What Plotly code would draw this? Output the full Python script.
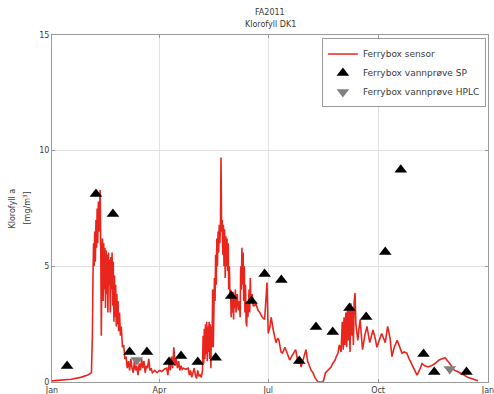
import plotly.graph_objects as go
import pandas as pd

# ---- data (day-of-year offsets from 2011-01-01) ----
sensor_day = [0, 8, 16, 24, 30, 33,
    33.8, 34.3, 34.8, 35.3, 35.8, 36.3, 36.8, 37.3, 37.8, 38.3, 38.8, 39.3, 39.8, 40.3, 40.8, 41.3, 41.8, 42.3,
    42.8, 43.3, 43.8, 44.3, 44.8, 45.3, 45.8, 46.3, 46.8, 47.3, 47.8, 48.3, 48.8, 49.3, 49.8, 50.3, 50.8, 51.3,
    51.8, 52.3, 52.8, 53.3, 53.8, 54.3, 54.8, 55.3, 55.8, 56.5, 57.3, 58, 59, 60, 61, 62, 63,
    64, 65, 66, 67, 68, 69, 70, 71, 72, 73, 74, 75, 76, 77, 78, 79, 80, 81, 82, 83, 84, 86, 88, 90, 92, 94,
    96, 97, 98, 99, 100, 101, 102, 103, 104, 105, 106, 107, 108, 109, 110, 112, 114, 115, 116, 117, 118, 119,
    120, 121, 122, 123, 124, 125,
    126, 126.5, 127, 127.5, 128, 128.5, 129, 129.5, 130, 130.5, 131, 131.5, 132, 132.5, 133, 133.5, 134, 134.5,
    135, 135.5, 136, 136.5, 137, 137.5, 138, 138.5, 139, 139.5, 140, 140.5, 141, 141.5, 142, 142.5, 143, 143.5,
    144, 144.5, 145, 145.5, 146, 146.5, 147, 147.5, 148, 148.5, 149, 149.5, 150, 150.5, 151, 151.5, 152, 152.5,
    153, 153.5, 154, 155, 156, 157, 157.5, 158, 158.5, 159, 159.5, 160, 160.5, 161, 161.5, 162, 162.5, 163,
    163.5, 164, 165, 165.5, 166, 166.5, 167.5, 168.5, 169.5, 170.5, 172.5, 174, 176, 178, 180, 181, 182.5,
    183.5, 185, 186, 187.5, 189, 190, 191.7, 193, 195, 197, 199, 200.5, 202, 204, 206, 207.5, 208.5, 210,
    212.6, 214, 216, 217, 218.5, 220, 222.7, 225, 227, 229, 231, 233.6, 235, 237, 238, 239.4, 240.5, 242, 243,
    243.8, 244.5, 245.2, 246, 246.7, 247.4, 248.1, 248.8, 249.5, 250.2, 250.9, 251.6, 252.3, 253, 253.7, 254.4,
    255, 256, 257, 258, 259, 260, 261.8, 263.7, 265, 266, 267.5, 268.7, 270.5, 272, 274, 276, 277.5, 279, 281,
    283, 284.6, 286.5, 289, 291, 293, 295, 297, 299, 301, 303, 305.6, 307.5, 309.8, 312, 314.8, 317.5, 320.6,
    324, 329, 333, 337, 339.5, 341.6, 345, 348, 352, 356.6, 361, 365]
sensor_val = [0.05, 0.08, 0.12, 0.2, 0.3, 0.4,
    2.0, 4.5, 6.0, 5.0, 6.5, 5.2, 7.0, 5.8, 7.5, 6.0, 7.8, 6.5, 8.2, 8.3, 6.0, 2.0, 5.5, 6.2,
    3.5, 6.0, 4.0, 5.8, 3.2, 5.7, 3.8, 5.5, 3.0, 5.6, 4.2, 5.3, 3.0, 5.4, 4.0, 5.6, 3.3, 5.2,
    2.6, 4.6, 2.8, 4.2, 2.4, 3.8, 2.5, 3.5, 2.2, 3.0, 2.0, 2.4, 1.5, 1.6, 1.0, 1.1, 0.6,
    0.9, 0.5, 1.0, 0.6, 0.4, 0.9, 0.5, 0.7, 0.3, 0.8, 0.5, 1.0, 0.6, 0.9, 0.4, 0.7, 0.6, 1.0, 0.5, 0.6, 0.4, 0.5, 0.4, 0.5, 0.45, 0.55,
    0.6, 0.3, 0.8, 0.5, 1.1, 0.6, 1.5, 0.7, 1.0, 0.6, 0.9, 0.5, 0.7, 0.55, 0.6, 0.55, 0.6, 0.3, 0.5, 0.2, 0.4, 0.6,
    0.3, 0.15, 0.5, 0.25, 0.3, 0.2,
    0.5, 2.0, 0.8, 2.3, 1.0, 2.5, 1.2, 2.6, 0.9, 2.4, 1.3, 2.6, 1.0, 2.5, 0.6, 2.4, 1.5, 4.0,
    1.5, 3.0, 4.5, 3.5, 5.5, 4.2, 6.2, 5.0, 6.5, 5.6, 6.8, 6.0, 6.6, 9.7, 6.5, 7.0, 5.5, 6.8,
    5.0, 6.6, 4.5, 6.3, 5.0, 6.2, 4.8, 6.0, 4.0, 5.0, 3.6, 4.0, 2.8, 3.8, 3.0, 3.9, 2.7, 3.6,
    3.2, 4.0, 3.0, 3.8, 3.1, 3.5, 2.8, 5.0, 4.0, 5.8, 4.2, 5.6, 3.5, 5.0, 3.0, 4.2,
    2.6, 2.4, 3.5, 2.8, 4.0, 3.0, 4.5, 3.5, 3.8, 3.3, 3.3, 3.4, 3.1, 3.0, 2.8, 2.7, 4.3,
    2.1, 2.4, 2.8, 2.3, 2.0, 1.7, 1.9, 1.8, 1.3, 1.25, 1.5, 1.2, 0.95, 1.1, 1.25, 1.4, 0.8, 0.9,
    0.65, 0.9, 1.4, 0.9, 0.65, 0.5, 0.4, 0.2, 0.0, 0.0, 0.0, 0.4, 0.5, 0.65, 0.8, 0.95, 1.1, 1.25, 1.6,
    1.3, 2.6, 1.4, 2.8, 1.6, 3.0, 1.5, 3.2, 1.8, 3.1, 1.3, 3.4, 2.0, 3.2, 1.6, 3.5,
    3.85, 2.5, 2.2, 1.8, 2.3, 2.7, 2.0, 1.4, 2.0, 2.4, 2.0, 1.7, 2.0, 2.25, 1.9, 1.5, 1.8, 2.1, 1.9,
    1.7, 2.4, 1.9, 1.1, 1.5, 1.8, 1.5, 1.25, 1.3, 1.25, 1.0, 0.8, 0.55, 0.3, 0.5, 0.8, 0.7, 0.65,
    0.7, 0.8, 0.95, 1.05, 0.8, 0.5, 0.45, 0.4, 0.3, 0.2, 0.12, 0.05]

sp_day = [12.6, 36.8, 51, 65, 79.5, 98, 108, 122, 137, 150, 167, 178, 192, 207, 221, 235, 249, 263, 279, 292, 311, 320, 347]
sp_val = [0.69, 8.13, 7.26, 1.3, 1.3, 0.86, 1.12, 0.86, 1.05, 3.72, 3.5, 4.67, 4.41, 0.91, 2.38, 2.16, 3.2, 2.81, 5.62, 9.17, 1.21, 0.43, 0.43]

hplc_day = [71, 333]
hplc_val = [0.95, 0.56]

x_tick_dates = ["2011-01-01", "2011-04-01", "2011-07-01", "2011-10-01", "2012-01-01"]
x_tick_labels = ["Jan", "Apr", "Jul", "Oct", "Jan"]
y_ticks = [0, 5, 10, 15]

start = pd.Timestamp("2011-01-01")
def to_dates(days):
    return [start + pd.Timedelta(days=d) for d in days]

FONT = "DejaVu Sans, Verdana, sans-serif"
TXT = "#3a3a3a"

fig = go.Figure()
fig.add_trace(go.Scatter(x=to_dates(sensor_day), y=sensor_val, mode="lines",
                         line=dict(color="#e8261e", width=1.6), name="Ferrybox sensor"))
fig.add_trace(go.Scatter(x=to_dates(sp_day), y=sp_val, mode="markers",
                         marker=dict(symbol="triangle-up", size=11, color="black"),
                         name="Ferrybox vannprøve SP"))
fig.add_trace(go.Scatter(x=to_dates(hplc_day), y=hplc_val, mode="markers",
                         marker=dict(symbol="triangle-down", size=11, color="#808080"),
                         name="Ferrybox vannprøve HPLC"))

fig.update_layout(
    width=494, height=394,
    margin=dict(l=52, r=6, t=35, b=12, autoexpand=False),
    paper_bgcolor="white", plot_bgcolor="white",
    font=dict(family=FONT, size=8, color=TXT),
    showlegend=True,
    legend=dict(x=0.619, y=0.99, xanchor="left", yanchor="top",
                bordercolor="#9a9a9a", borderwidth=1, bgcolor="white",
                font=dict(size=9, color=TXT), tracegroupgap=0,
                itemwidth=30),
    xaxis=dict(type="date", range=["2011-01-01", "2012-01-01"],
               tickvals=x_tick_dates, ticktext=x_tick_labels,
               showgrid=True, gridcolor="#e2e2e2", gridwidth=1,
               showline=True, linecolor="#9a9a9a", linewidth=1, mirror="ticks",
               ticks="inside", ticklen=3, tickcolor="#9a9a9a", automargin=False,
               ticklabeloverflow="allow",
               tickfont=dict(size=8, color=TXT), zeroline=False),
    yaxis=dict(range=[0, 15], tickvals=y_ticks,
               showgrid=True, gridcolor="#e2e2e2", gridwidth=1,
               showline=True, linecolor="#9a9a9a", linewidth=1, mirror="ticks",
               ticks="inside", ticklen=3, tickcolor="#9a9a9a", automargin=False,
               ticklabeloverflow="allow",
               tickfont=dict(size=8, color=TXT), zeroline=False),
    annotations=[
        dict(text="FA2011", xref="paper", yref="paper", x=0.5, y=1.0, yshift=23,
             showarrow=False, font=dict(size=8, color=TXT), yanchor="middle"),
        dict(text="Klorofyll DK1", xref="paper", yref="paper", x=0.5, y=1.0, yshift=11,
             showarrow=False, font=dict(size=8, color=TXT), yanchor="middle"),
        dict(text="Klorofyll a", xref="paper", yref="paper", x=0, xshift=-40, y=0.5,
             textangle=-90, showarrow=False, font=dict(size=8, color=TXT), xanchor="center"),
        dict(text="[mg/m<sup>3</sup>]", xref="paper", yref="paper", x=0, xshift=-26, y=0.5,
             textangle=-90, showarrow=False, font=dict(size=8, color=TXT), xanchor="center"),
    ],
)

fig.write_html("out.html")
